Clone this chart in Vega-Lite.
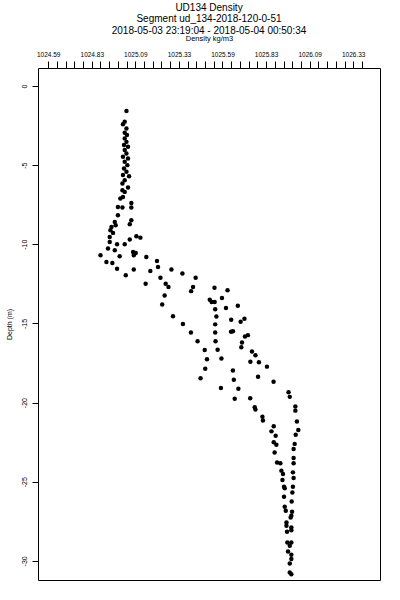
{
  "$schema": "https://vega.github.io/schema/vega-lite/v6.json",
  "width": 342,
  "height": 512,
  "autosize": {"type": "none"},
  "padding": {"left": 38, "top": 68, "right": 20, "bottom": 20},
  "background": "white",
  "title": {
    "text": ["UD134 Density", "Segment ud_134-2018-120-0-51", "2018-05-03 23:19:04 - 2018-05-04 00:50:34"],
    "font": "Liberation Sans",
    "fontSize": 10,
    "fontWeight": "normal",
    "lineHeight": 11.5,
    "anchor": "middle",
    "frame": "group",
    "offset": -1,
    "color": "black"
  },
  "config": {
    "view": {"stroke": "black", "strokeWidth": 1},
    "axis": {
      "domain": false,
      "grid": false,
      "tickColor": "black",
      "tickWidth": 1,
      "labelColor": "black",
      "titleColor": "black",
      "labelFont": "Liberation Sans",
      "titleFont": "Liberation Sans",
      "titleFontWeight": "normal",
      "labelOverlap": false,
      "labelFlush": false
    }
  },
  "data": {
    "values": [
      {"density": 1025.039, "depth": -1.58},
      {"density": 1025.029, "depth": -2.26},
      {"density": 1025.019, "depth": -2.41},
      {"density": 1025.039, "depth": -2.68},
      {"density": 1025.029, "depth": -2.96},
      {"density": 1025.042, "depth": -3.10},
      {"density": 1025.029, "depth": -3.31},
      {"density": 1025.039, "depth": -3.53},
      {"density": 1025.025, "depth": -3.73},
      {"density": 1025.048, "depth": -3.84},
      {"density": 1025.029, "depth": -4.05},
      {"density": 1025.039, "depth": -4.26},
      {"density": 1025.019, "depth": -4.47},
      {"density": 1025.048, "depth": -4.58},
      {"density": 1025.029, "depth": -4.79},
      {"density": 1025.044, "depth": -5.00},
      {"density": 1025.025, "depth": -5.21},
      {"density": 1025.039, "depth": -5.42},
      {"density": 1025.019, "depth": -5.63},
      {"density": 1025.054, "depth": -5.70},
      {"density": 1025.029, "depth": -5.95},
      {"density": 1025.016, "depth": -6.16},
      {"density": 1025.048, "depth": -6.41},
      {"density": 1025.016, "depth": -6.58},
      {"density": 1025.029, "depth": -6.69},
      {"density": 1025.019, "depth": -7.01},
      {"density": 1025.004, "depth": -7.11},
      {"density": 1025.067, "depth": -7.39},
      {"density": 1024.990, "depth": -7.64},
      {"density": 1025.016, "depth": -7.68},
      {"density": 1025.067, "depth": -7.68},
      {"density": 1024.990, "depth": -8.16},
      {"density": 1024.972, "depth": -8.59},
      {"density": 1024.977, "depth": -8.80},
      {"density": 1025.067, "depth": -8.48},
      {"density": 1025.058, "depth": -8.73},
      {"density": 1024.953, "depth": -8.91},
      {"density": 1024.947, "depth": -9.11},
      {"density": 1024.962, "depth": -9.28},
      {"density": 1024.943, "depth": -9.54},
      {"density": 1025.096, "depth": -9.49},
      {"density": 1025.119, "depth": -9.58},
      {"density": 1025.058, "depth": -9.70},
      {"density": 1024.943, "depth": -9.85},
      {"density": 1024.985, "depth": -10.00},
      {"density": 1025.029, "depth": -10.00},
      {"density": 1024.933, "depth": -10.27},
      {"density": 1024.972, "depth": -10.38},
      {"density": 1025.077, "depth": -10.49},
      {"density": 1025.092, "depth": -10.55},
      {"density": 1025.081, "depth": -10.70},
      {"density": 1024.890, "depth": -10.70},
      {"density": 1025.000, "depth": -10.76},
      {"density": 1025.153, "depth": -10.80},
      {"density": 1025.214, "depth": -11.06},
      {"density": 1024.924, "depth": -11.12},
      {"density": 1024.958, "depth": -11.18},
      {"density": 1025.220, "depth": -11.44},
      {"density": 1024.985, "depth": -11.54},
      {"density": 1025.081, "depth": -11.60},
      {"density": 1025.176, "depth": -11.69},
      {"density": 1025.297, "depth": -11.60},
      {"density": 1025.360, "depth": -11.85},
      {"density": 1025.035, "depth": -11.96},
      {"density": 1025.234, "depth": -12.11},
      {"density": 1025.436, "depth": -12.12},
      {"density": 1025.149, "depth": -12.49},
      {"density": 1025.264, "depth": -12.49},
      {"density": 1025.280, "depth": -12.70},
      {"density": 1025.421, "depth": -12.70},
      {"density": 1025.410, "depth": -12.96},
      {"density": 1025.544, "depth": -12.74},
      {"density": 1025.619, "depth": -12.91},
      {"density": 1025.258, "depth": -13.23},
      {"density": 1025.587, "depth": -13.40},
      {"density": 1025.517, "depth": -13.50},
      {"density": 1025.528, "depth": -13.65},
      {"density": 1025.545, "depth": -13.65},
      {"density": 1025.244, "depth": -13.81},
      {"density": 1025.678, "depth": -13.89},
      {"density": 1025.548, "depth": -14.11},
      {"density": 1025.610, "depth": -14.03},
      {"density": 1025.306, "depth": -14.54},
      {"density": 1025.555, "depth": -14.56},
      {"density": 1025.640, "depth": -14.77},
      {"density": 1025.694, "depth": -14.89},
      {"density": 1025.716, "depth": -14.70},
      {"density": 1025.363, "depth": -15.04},
      {"density": 1025.548, "depth": -15.06},
      {"density": 1025.409, "depth": -15.57},
      {"density": 1025.548, "depth": -15.58},
      {"density": 1025.639, "depth": -15.53},
      {"density": 1025.650, "depth": -15.49},
      {"density": 1025.719, "depth": -15.82},
      {"density": 1025.736, "depth": -15.74},
      {"density": 1025.447, "depth": -16.13},
      {"density": 1025.550, "depth": -16.13},
      {"density": 1025.702, "depth": -16.20},
      {"density": 1025.698, "depth": -16.50},
      {"density": 1025.488, "depth": -16.68},
      {"density": 1025.562, "depth": -16.66},
      {"density": 1025.759, "depth": -16.77},
      {"density": 1025.779, "depth": -17.01},
      {"density": 1025.501, "depth": -17.27},
      {"density": 1025.584, "depth": -17.22},
      {"density": 1025.750, "depth": -17.42},
      {"density": 1025.799, "depth": -17.45},
      {"density": 1025.845, "depth": -17.73},
      {"density": 1025.491, "depth": -17.86},
      {"density": 1025.650, "depth": -17.97},
      {"density": 1025.794, "depth": -18.37},
      {"density": 1025.464, "depth": -18.46},
      {"density": 1025.655, "depth": -18.56},
      {"density": 1025.883, "depth": -18.68},
      {"density": 1025.581, "depth": -19.08},
      {"density": 1025.681, "depth": -19.13},
      {"density": 1025.969, "depth": -19.35},
      {"density": 1025.976, "depth": -19.64},
      {"density": 1025.660, "depth": -19.76},
      {"density": 1025.749, "depth": -19.73},
      {"density": 1025.775, "depth": -20.30},
      {"density": 1025.779, "depth": -20.44},
      {"density": 1026.008, "depth": -20.25},
      {"density": 1026.008, "depth": -20.51},
      {"density": 1025.819, "depth": -20.89},
      {"density": 1025.822, "depth": -21.14},
      {"density": 1026.017, "depth": -21.20},
      {"density": 1025.884, "depth": -21.50},
      {"density": 1025.871, "depth": -21.82},
      {"density": 1026.025, "depth": -21.73},
      {"density": 1025.895, "depth": -22.09},
      {"density": 1026.010, "depth": -22.04},
      {"density": 1025.884, "depth": -22.51},
      {"density": 1025.899, "depth": -22.66},
      {"density": 1026.004, "depth": -22.61},
      {"density": 1025.998, "depth": -22.93},
      {"density": 1025.889, "depth": -23.15},
      {"density": 1025.998, "depth": -23.50},
      {"density": 1025.903, "depth": -23.78},
      {"density": 1025.922, "depth": -23.84},
      {"density": 1025.998, "depth": -23.84},
      {"density": 1025.928, "depth": -24.30},
      {"density": 1025.937, "depth": -24.51},
      {"density": 1025.994, "depth": -24.41},
      {"density": 1025.998, "depth": -24.77},
      {"density": 1025.934, "depth": -24.89},
      {"density": 1025.943, "depth": -25.32},
      {"density": 1025.947, "depth": -25.42},
      {"density": 1025.994, "depth": -25.32},
      {"density": 1025.991, "depth": -25.68},
      {"density": 1025.943, "depth": -25.95},
      {"density": 1025.987, "depth": -26.25},
      {"density": 1025.947, "depth": -26.58},
      {"density": 1025.953, "depth": -26.84},
      {"density": 1025.989, "depth": -26.90},
      {"density": 1025.985, "depth": -27.15},
      {"density": 1025.981, "depth": -27.26},
      {"density": 1025.957, "depth": -27.58},
      {"density": 1025.957, "depth": -27.78},
      {"density": 1025.985, "depth": -27.89},
      {"density": 1025.985, "depth": -28.06},
      {"density": 1025.960, "depth": -28.16},
      {"density": 1025.962, "depth": -28.84},
      {"density": 1025.985, "depth": -28.84},
      {"density": 1025.976, "depth": -29.05},
      {"density": 1025.966, "depth": -29.41},
      {"density": 1025.985, "depth": -29.62},
      {"density": 1025.985, "depth": -29.89},
      {"density": 1025.976, "depth": -30.17},
      {"density": 1025.976, "depth": -30.74},
      {"density": 1025.985, "depth": -30.84}
    ]
  },
  "mark": {"type": "point", "shape": "circle", "filled": true, "size": 20, "color": "black", "opacity": 1},
  "encoding": {
    "x": {
      "field": "density",
      "type": "quantitative",
      "scale": {"domain": [1024.5315, 1026.4936], "nice": false, "zero": false},
      "axis": {
        "orient": "top",
        "title": "Density kg/m3",
        "titleFontSize": 7.5,
        "titleBaseline": "alphabetic",
        "titleY": -27.5,
        "titlePadding": 0,
        "labelFontSize": 6.5,
        "tickSize": 7,
        "labelPadding": 4,
        "values": [1024.59, 1024.64, 1024.69, 1024.74, 1024.79, 1024.84, 1024.89, 1024.94, 1024.99, 1025.04, 1025.09, 1025.14, 1025.19, 1025.24, 1025.29, 1025.34, 1025.39, 1025.44, 1025.49, 1025.54, 1025.59, 1025.64, 1025.69, 1025.74, 1025.79, 1025.84, 1025.89, 1025.94, 1025.99, 1026.04, 1026.09, 1026.14, 1026.19, 1026.24, 1026.29, 1026.34, 1026.39],
        "labelExpr": "(round((datum.value - 1024.59) / 0.05) % 5 == 0) ? ['1024.59','1024.83','1025.09','1025.33','1025.59','1025.83','1026.09','1026.33'][round((datum.value - 1024.59) / 0.25)] : ''"
      }
    },
    "y": {
      "field": "depth",
      "type": "quantitative",
      "scale": {"domain": [-31.21, 1.137], "nice": false, "zero": false},
      "axis": {
        "title": "Depth (m)",
        "titleFontSize": 7,
        "titlePadding": 8,
        "labelFontSize": 7,
        "labelAngle": 270,
        "labelAlign": "center",
        "labelBaseline": "bottom",
        "labelPadding": 5,
        "tickSize": 6,
        "values": [0, -5, -10, -15, -20, -25, -30],
        "labelExpr": "'' + datum.value"
      }
    }
  }
}
